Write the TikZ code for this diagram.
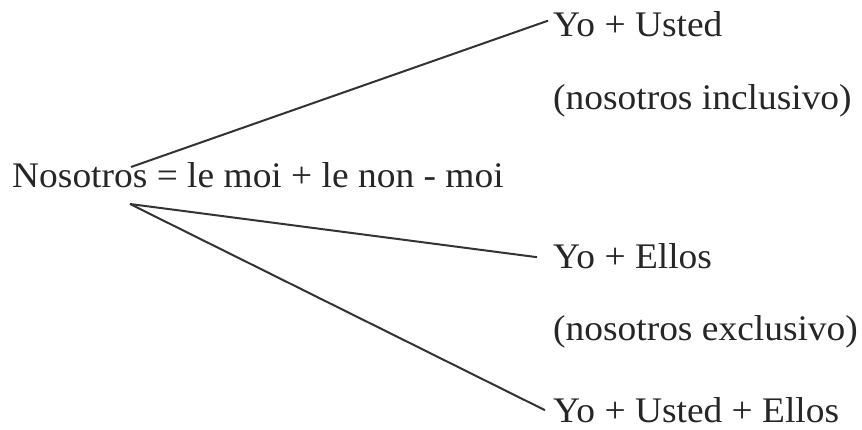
\documentclass[tikz,border=0pt]{standalone}
\usepackage{fontspec}
\setmainfont{Liberation Serif}
\newfontfamily\widefont[FakeStretch=1.04]{Liberation Serif}
\usetikzlibrary{calc}
\tikzset{
    txt/.style={inner sep=0pt, anchor=base west, text=black!85, font=\widefont\fontsize{36}{40}\selectfont},
    br/.style={line width=2pt, black!80}
}
\begin{document}
\begin{tikzpicture}[x=1pt, y=-1pt]
        \useasboundingbox (0,0) rectangle (862,429);
        \node[txt] (nos) at (12,187) {Nosotros = le moi + le non - moi};
        \node[txt] (yu) at (553,36) {Yo + Usted};
        \node[txt] (inc) at (553,109) {(nosotros inclusivo)};
        \node[txt] (ye) at (553,268) {Yo + Ellos};
        \node[txt] (exc) at (553,340) {(nosotros exclusivo)};
        \node[txt] (yue) at (553,422) {Yo + Usted + Ellos};

        \coordinate (top) at (131,167);
        \coordinate (bot) at (130,204);

        \draw[br] (top) -- ($(yu.west)+(-5,-3)$);
        \draw[br] (bot) -- ($(ye.west)+(-16,1.5)$);
        \draw[br] (bot) -- ($(yue.west)+(-8,0.5)$);
    \end{tikzpicture}
\end{document}
